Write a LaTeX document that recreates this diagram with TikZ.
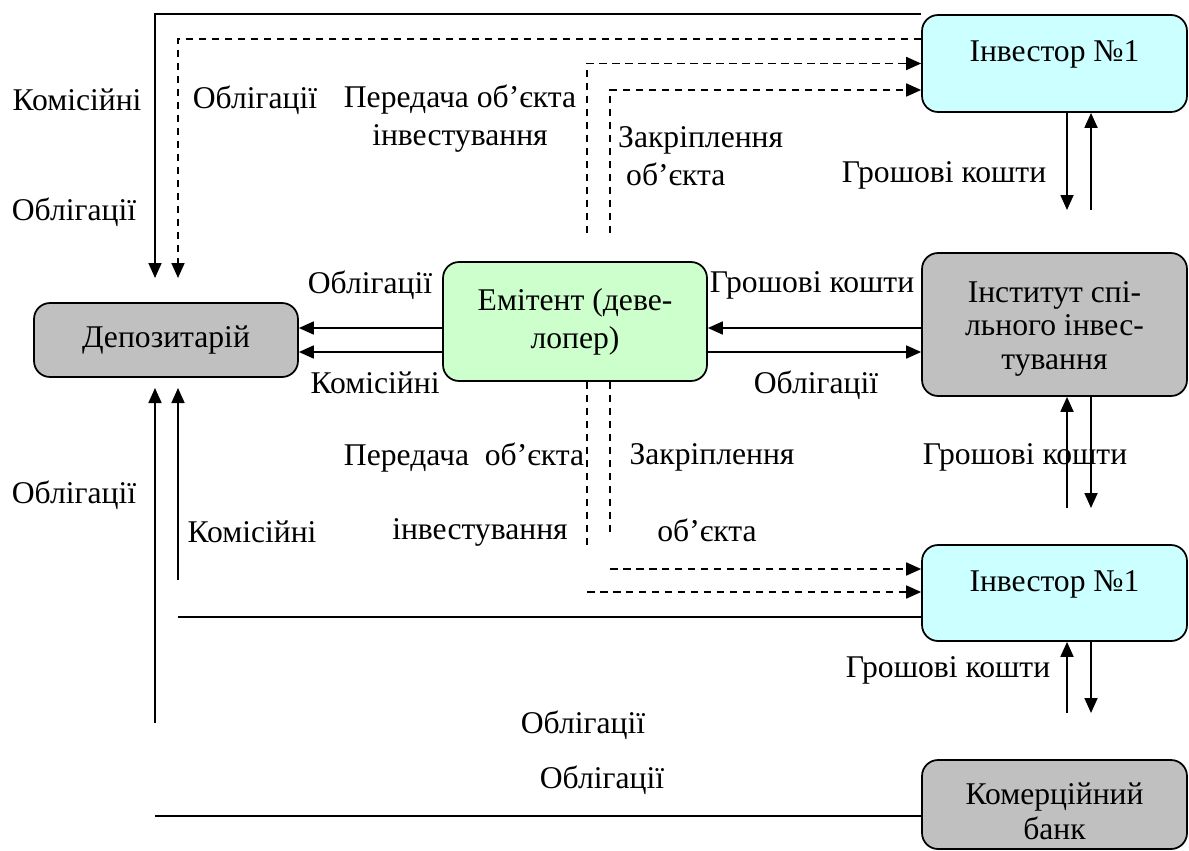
\documentclass[tikz,border=0pt]{standalone}
\usepackage{fontspec}
\setmainfont{Liberation Serif}
\usepackage{tikz}
\usetikzlibrary{arrows.meta, positioning, calc}
\definecolor{invcyan}{HTML}{CCFFFF}
\definecolor{emitgreen}{HTML}{CCFFCC}
\definecolor{boxgrey}{HTML}{C0C0C0}

\begin{document}
\begin{tikzpicture}[x=0.02cm, y=-0.02cm,
  font=\fontsize{18}{21.6}\selectfont,
  box/.style={draw, line width=1pt, rounded corners=0.32cm, align=center, minimum width=5.3cm},
  flow/.style={line width=1pt, -{Triangle[length=0.3cm, width=0.26cm]}},
  dflow/.style={flow, dash pattern=on 0.15cm off 0.11cm},
  dline/.style={line width=1pt, dash pattern=on 0.15cm off 0.11cm},
  sline/.style={line width=1pt}]
\useasboundingbox (0,0) rectangle (1189,851);

% Participants
\node[box, fill=boxgrey, minimum width=5.28cm, minimum height=1.48cm] (dep) at (166,340) {Депозитарій};
\node[box, fill=emitgreen, minimum width=5.28cm, minimum height=2.38cm] (emit) at (575,321.5) {Емітент (деве-\\лопер)};
\node[box, fill=invcyan, minimum height=1.94cm, text depth=0.48cm] (inv1) at (1054.5,63.5) {Інвестор №1};
\node[box, fill=boxgrey, minimum height=2.86cm, font=\fontsize{18}{19}\selectfont, text height=1.92cm] (inst) at (1054.5,324.5) {Інститут спі-\\льного інвес-\\тування};
\node[box, fill=invcyan, minimum height=1.92cm, text depth=0.48cm] (inv2) at (1054.5,593) {Інвестор №1};
\node[box, fill=boxgrey, minimum height=1.78cm, font=\fontsize{18}{20}\selectfont, text height=1.4cm] (bank) at (1054.5,804.5) {Комерційний\\банк};

% Bend points and free ends
\coordinate (topA) at (155,278);
\coordinate (topB) at (178,278);
\coordinate (bendB) at (178,39);
\coordinate (upA) at (587,233);
\coordinate (upB) at (610,233);
\coordinate (bendD) at (610,90);
\coordinate (inv1Dn) at (1067,210);
\coordinate (inv1Up) at (1091,210);
\coordinate (rowA) at (0,328);
\coordinate (rowB) at (0,352);
\coordinate (instUp) at (1067,508);
\coordinate (instDn) at (1091,508);
\coordinate (lowA) at (587,547);
\coordinate (lowB) at (610,532);
\coordinate (bendE) at (610,569);
\coordinate (bendF) at (587,592);
\coordinate (botA) at (155,388);
\coordinate (botB) at (178,388);
\coordinate (startA) at (155,723);
\coordinate (startB) at (178,580);
\coordinate (rowInv2) at (178,617);
\coordinate (rowBank) at (155,816);
\coordinate (inv2Up) at (1067,713);
\coordinate (inv2Dn) at (1091,713);

% Upper part
\draw[flow] (inv1.north west) -| (topA);
\draw[dflow] (bendB -| inv1.west) -- (bendB) -- (topB);
\draw[dflow] (upA) |- (inv1.west);
\draw[dflow] (upB) -- (bendD) -- (bendD -| inv1.west);
\draw[flow] (inv1.south -| inv1Dn) -- (inv1Dn);
\draw[flow] (inv1Up) -- (inv1Up |- inv1.south);

% Middle row
\draw[flow] (emit.west |- rowA) -- (dep.east |- rowA);
\draw[flow] (emit.west |- rowB) -- (dep.east |- rowB);
\draw[flow] (inst.west |- rowA) -- (emit.east |- rowA);
\draw[flow] (emit.east |- rowB) -- (inst.west |- rowB);
\draw[flow] (instUp) -- (instUp |- inst.south);
\draw[flow] (inst.south -| instDn) -- (instDn);

% Lower part
\draw[dline] (emit.south -| lowA) -- (lowA);
\draw[dline] (emit.south -| lowB) -- (lowB);
\draw[dflow] (bendE) -- (bendE -| inv2.west);
\draw[dflow] (bendF) -- (bendF -| inv2.west);
\draw[flow] (startA) -- (botA);
\draw[flow] (startB) -- (botB);
\draw[sline] (inv2.west |- rowInv2) -- (rowInv2);
\draw[sline] (bank.west |- rowBank) -- (rowBank);
\draw[flow] (inv2Up) -- (inv2Up |- inv2.south);
\draw[flow] (inv2.south -| inv2Dn) -- (inv2Dn);

% Labels
\node (lKomTop) at (77,100) {Комісійні};
\node (lOblTopL) at (74,212) {Облігації};
\node (lOblTop) at (255,100) {Облігації};
\node[align=center] (lPeredTop) at (460,119) {Передача об’єкта\\інвестування};
\node[align=left, anchor=west] (lZakrTop) at (612,156) {Закріплення\\\hspace*{0.16cm}об’єкта};
\node (lGrosh1) at (944,175) {Грошові кошти};
\node (lOblE) at (370,285) {Облігації};
\node (lKomE) at (375,383) {Комісійні};
\node (lGroshI) at (812,285) {Грошові кошти};
\node (lOblI) at (816,385) {Облігації};
\node (lGrosh2) at (1025,457) {Грошові кошти};
\node (lPeredBot) at (464,458) {Передача\ \ об’єкта};
\node (lZakrBot) at (712,457) {Закріплення};
\node (lOblBotL) at (74,495) {Облігації};
\node (lKomBot) at (252,532) {Комісійні};
\node (lInvBot) at (480,532) {інвестування};
\node (lObjBot) at (707,530) {об’єкта};
\node (lGrosh3) at (948,670) {Грошові кошти};
\node (lOblB1) at (583,725) {Облігації};
\node (lOblB2) at (602,780) {Облігації};

\end{tikzpicture}
\end{document}
